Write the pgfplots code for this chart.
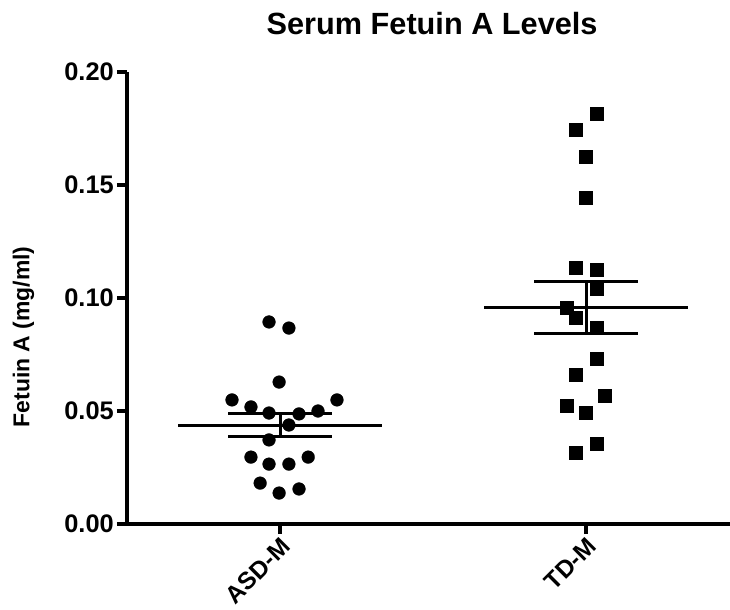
\documentclass[border=0pt]{standalone}
\usepackage{pgfplots}
\pgfplotsset{compat=1.18}
\usepackage{fontspec}
\setmainfont{Liberation Sans}

\begin{document}
\begin{tikzpicture}
\begin{axis}[
  scale only axis,
  width=603bp, height=452bp,
  xmin=0.5, xmax=2.47,
  ymin=0, ymax=0.2,
  clip=false,
  axis x line*=bottom, axis y line*=left,
  axis line style={line width=3.5bp, black},
  xtick={1,2}, xticklabels={ASD-M, TD-M},
  ytick={0,0.05,0.10,0.15,0.20},
  tick align=outside,
  major tick length=10bp,
  tick style={line width=3.5bp, black},
  /pgf/number format/assume math mode=true,
  yticklabel={\pgfmathprintnumber[fixed,fixed zerofill,precision=2]{\tick}},
  yticklabel style={font=\fontsize{25.5}{25.5}\selectfont\bfseries, inner sep=1bp, xshift=-2bp},
  xticklabel style={font=\fontsize{24.5}{24.5}\selectfont\bfseries, rotate=45, anchor=north east, inner sep=1.5bp},
  ylabel={Fetuin A (mg/ml)},
  ylabel style={font=\fontsize{23}{23}\selectfont\bfseries, at={(axis description cs:-0.1716,0.414)}, anchor=center},
  title={Serum Fetuin A Levels},
  title style={font=\fontsize{30.8}{30.8}\selectfont\bfseries, at={(axis description cs:0.506,1)}, anchor=base, yshift=32bp},
]
% ASD-M
\addplot[only marks, mark=*, mark size=6.4bp, mark options={fill=black, draw=black, line width=0.3bp}] coordinates {
(0.964,0.0894) (1.029,0.0867) (0.997,0.0628) (0.843,0.0549) (0.905,0.0518)
(0.964,0.0491) (1.062,0.0487) (1.124,0.0500) (1.186,0.0549) (1.029,0.0438)
(0.964,0.0372) (0.905,0.0296) (0.964,0.0265) (1.029,0.0265) (1.092,0.0296)
(0.935,0.0181) (0.997,0.0137) (1.062,0.0155)
};
% TD-M
\addplot[only marks, mark=square*, mark size=6.5bp, mark options={fill=black, draw=black, line width=0.3bp}] coordinates {
(2.033,0.1814) (1.967,0.1743) (2.000,0.1624) (2.000,0.1442) (1.967,0.1133)
(2.033,0.1124) (2.033,0.1040) (1.935,0.0956) (1.967,0.0912) (2.033,0.0867)
(2.033,0.0730) (1.967,0.0659) (2.062,0.0566) (1.935,0.0522) (2.000,0.0491)
(2.033,0.0354) (1.967,0.0314)
};
% mean and SEM
\addplot[line width=3bp, black] coordinates {(0.667,0.0438) (1.333,0.0438)};
\addplot[line width=3bp, black] coordinates {(0.83,0.0491) (1.17,0.0491)};
\addplot[line width=3bp, black] coordinates {(0.83,0.0389) (1.17,0.0389)};
\addplot[line width=3bp, black] coordinates {(1,0.0389) (1,0.0491)};
\addplot[line width=3bp, black] coordinates {(1.667,0.0956) (2.333,0.0956)};
\addplot[line width=3bp, black] coordinates {(1.83,0.1071) (2.17,0.1071)};
\addplot[line width=3bp, black] coordinates {(1.83,0.0845) (2.17,0.0845)};
\addplot[line width=3bp, black] coordinates {(2,0.0845) (2,0.1071)};
\end{axis}
\pgfresetboundingbox
\path[use as bounding box] (-127bp,-86bp) rectangle (603bp,524bp);
\end{tikzpicture}
\end{document}
